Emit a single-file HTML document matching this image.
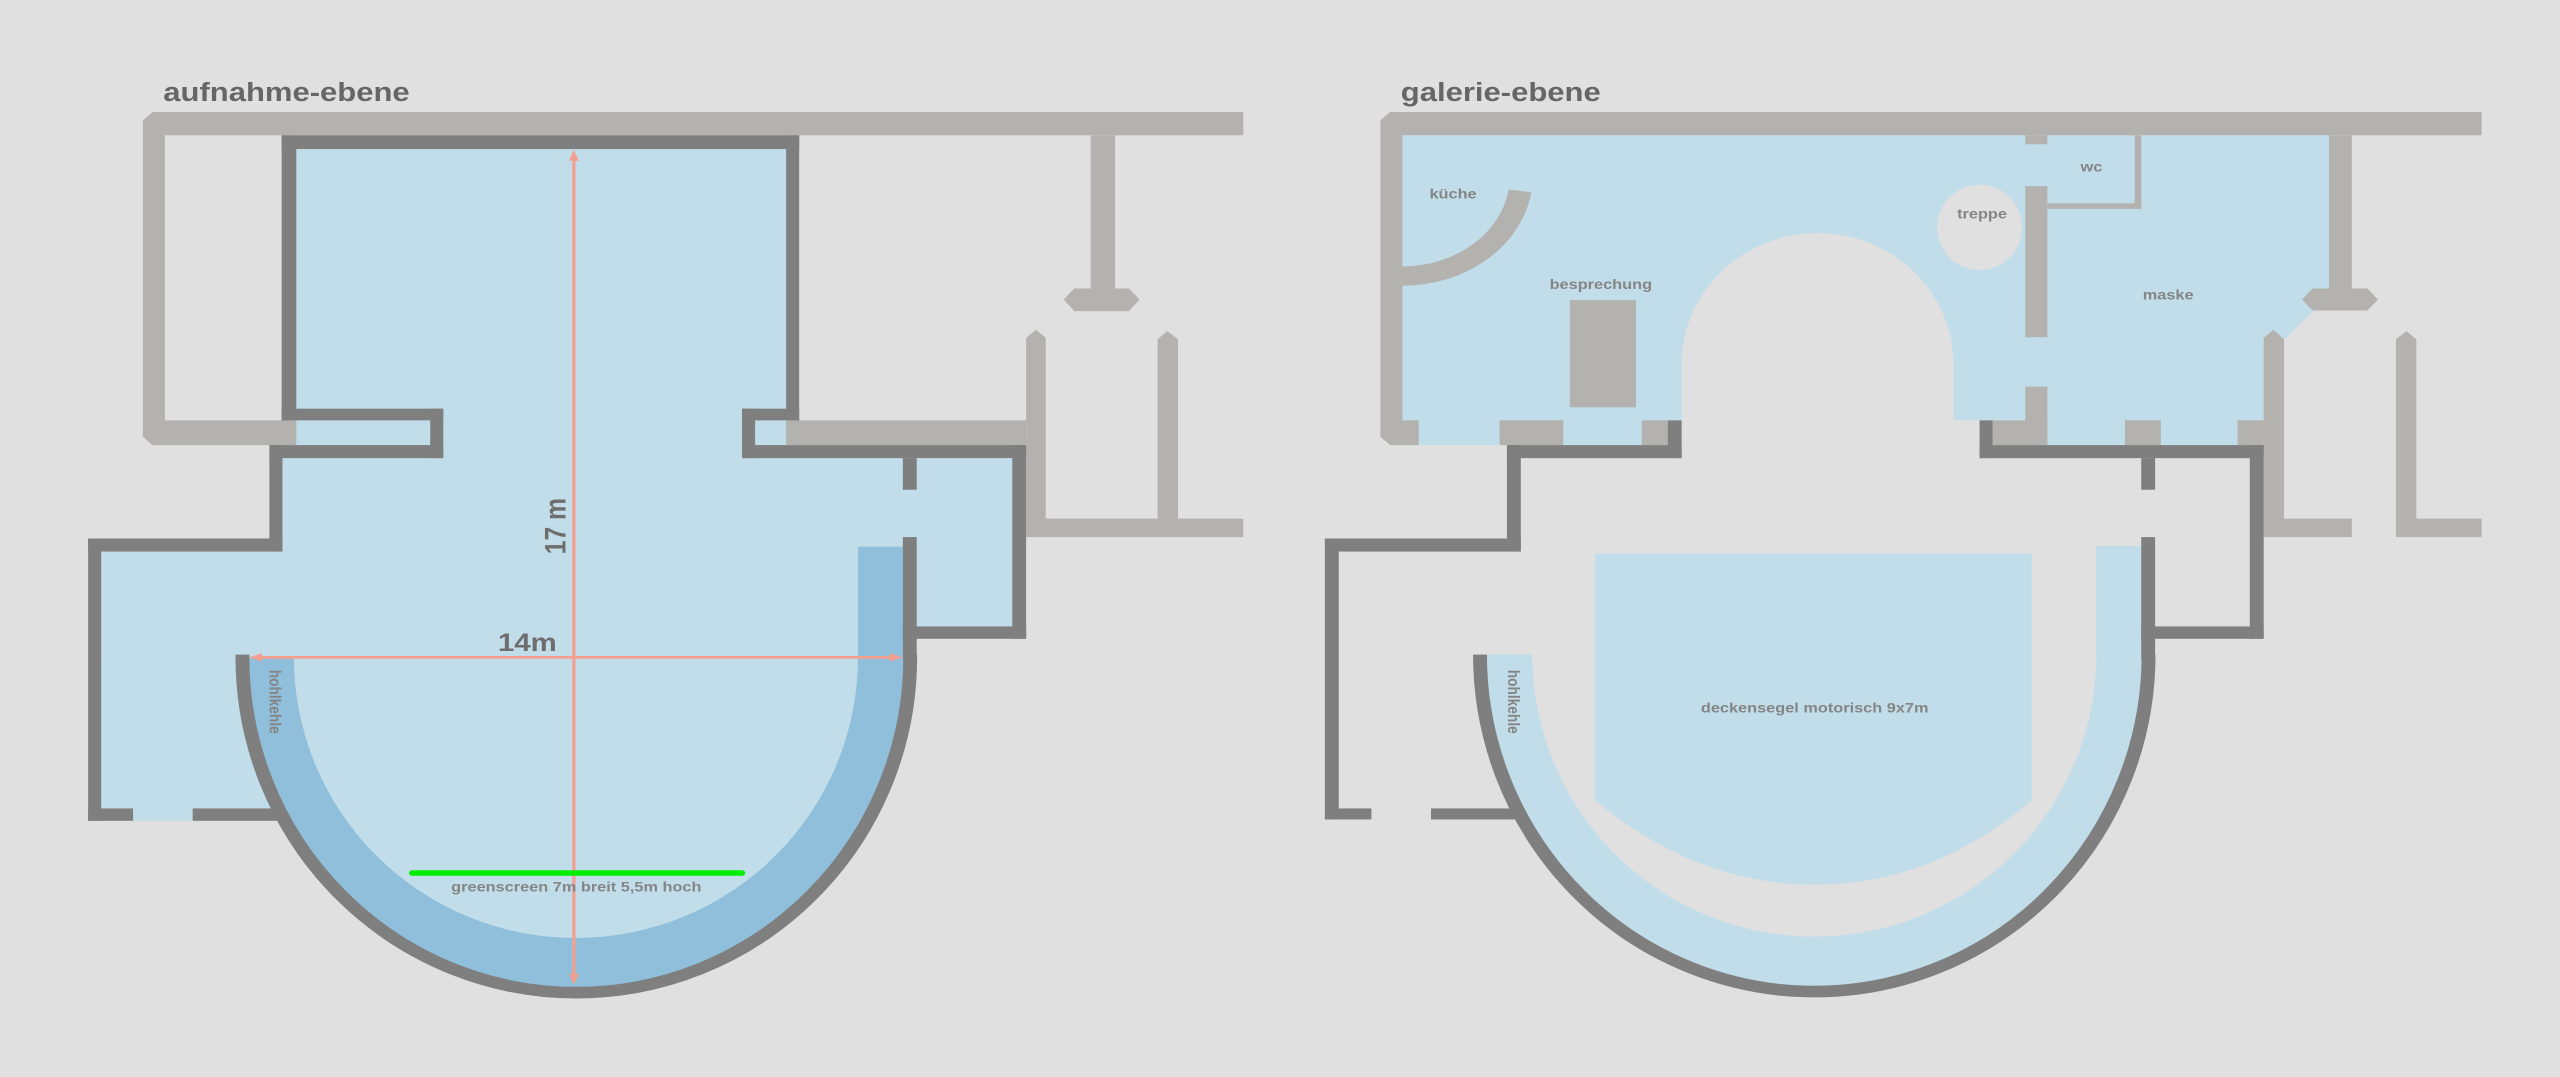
<!DOCTYPE html>
<html><head><meta charset="utf-8"><style>
html,body{margin:0;padding:0;background:#e0e0e0;}
body{width:2560px;height:1077px;position:relative;overflow:hidden;}
svg{position:absolute;top:0;}
text{font-family:"Liberation Sans",sans-serif;font-weight:bold;}
</style></head><body>
<svg style="left:0" width="1280" height="1077" viewBox="0 0 1568 1568" preserveAspectRatio="none">
<rect width="1568" height="1568" fill="#e0e0e0"/>
<text x="200" y="147" font-size="38" fill="#666">aufnahme-ebene</text>
<g fill="#b3b2ae">
<path d="M187 163 H1523 V197 H202 V612 H527 V648 H187 L175 636 V175 Z"/>
<rect x="925" y="612" width="332" height="36"/>
<rect x="1336" y="197" width="30" height="223"/>
<path d="M1316 420 H1383 L1396 436 L1383 453 H1316 L1303 436 Z"/>
<path d="M1257 492 L1269 480 L1281 492 V755 H1418 V494 L1430 482 L1443 494 V755 H1523 V782 H1257 Z"/>
</g>
<g fill="#c1dde9">
<rect x="363" y="217" width="600" height="450"/>
<rect x="346" y="648" width="760" height="310"/>
<rect x="1106" y="667" width="134" height="245"/>
<rect x="124" y="803" width="222" height="374"/>
<rect x="124" y="960" width="216" height="235"/>
<path d="M297 957 A408 487 0 0 0 1115 957 Z"/>
</g>
<path d="M297 957 A408 487 0 0 0 1115 957 V796 H1051 V957 A345 408 0 0 1 360 957 Z" fill="#8fbfda"/>
<g fill="#7f7f7f">
<rect x="345" y="197" width="634" height="20"/>
<rect x="345" y="197" width="18" height="415"/>
<rect x="963" y="197" width="16" height="415"/>
<rect x="345" y="595" width="198" height="17"/>
<rect x="527" y="595" width="16" height="72"/>
<rect x="330" y="648" width="213" height="19"/>
<rect x="330" y="648" width="16" height="155"/>
<rect x="108" y="784" width="238" height="19"/>
<rect x="108" y="784" width="16" height="411"/>
<rect x="108" y="1177" width="55" height="18"/>
<rect x="236" y="1177" width="104" height="18"/>
<rect x="909" y="595" width="70" height="17"/>
<rect x="909" y="595" width="16" height="72"/>
<rect x="909" y="648" width="348" height="19"/>
<rect x="1240" y="648" width="17" height="282"/>
<rect x="1106" y="912" width="151" height="18"/>
<rect x="1106" y="667" width="17" height="46"/>
<rect x="1106" y="782" width="17" height="178"/>
</g>
<path d="M297 953 V957 A408 487 0 0 0 1115 957 V953" fill="none" stroke="#7f7f7f" stroke-width="17"/>
<g stroke="#f4a090" stroke-width="4" fill="#f4a090">
<line x1="703" y1="228" x2="703" y2="1424"/>
<line x1="315" y1="957" x2="1096" y2="957"/>
</g>
<g fill="#f4a090">
<path d="M703 218 L697 234 H709 Z"/><path d="M703 1434 L697 1418 H709 Z"/>
<path d="M305 957 L321 951 V963 Z"/><path d="M1106 957 L1090 951 V963 Z"/>
</g>
<text x="0" y="0" font-size="36" fill="#6e6e6e" transform="translate(693,807) rotate(-90)">17 m</text>
<text x="610" y="948" font-size="36" fill="#6e6e6e">14m</text>
<line x1="505" y1="1271" x2="909" y2="1271" stroke="#00ee00" stroke-width="8" stroke-linecap="round"/>
<text x="706" y="1298" font-size="20" fill="#858585" text-anchor="middle">greenscreen 7m breit 5,5m hoch</text>
<text x="0" y="0" font-size="20" fill="#858585" transform="translate(330,975) rotate(90)">hohlkehle</text>
</svg>

<svg style="left:1280px" width="1280" height="1077" viewBox="0 0 1568 1568" preserveAspectRatio="none">
<rect width="1568" height="1568" fill="#e0e0e0"/>
<text x="148" y="147" font-size="38" fill="#666">galerie-ebene</text>
<g fill="#c1dde9">
<rect x="150" y="197" width="1135" height="255"/>
<rect x="150" y="450" width="1055" height="162"/>
<path d="M1205 450 L1268 450 L1228 497 L1205 497 Z"/>
<rect x="150" y="600" width="342" height="48"/>
<rect x="940" y="600" width="265" height="48"/>
</g>
<path d="M492 612 V530 A166 190 0 0 1 825 530 V612 Z" fill="#e0e0e0"/>
<ellipse cx="857" cy="331" rx="52" ry="62" fill="#e0e0e0"/>
<g fill="#b3b2ae">
<path d="M135 163 H1472 V197 H150 V612 H170 V648 H135 L123 636 V175 Z"/>
<rect x="269" y="612" width="78" height="36"/>
<rect x="443" y="612" width="32" height="36"/>
<rect x="913" y="197" width="27" height="13"/>
<rect x="913" y="271" width="27" height="220"/>
<rect x="913" y="563" width="27" height="85"/>
<rect x="873" y="612" width="67" height="36"/>
<rect x="1035" y="612" width="44" height="36"/>
<rect x="1173" y="612" width="32" height="36"/>
<rect x="1047" y="197" width="8" height="107"/>
<rect x="940" y="296" width="115" height="8"/>
<rect x="1285" y="197" width="28" height="223"/>
<path d="M1265 420 H1332 L1345 436 L1332 452 H1265 L1252 436 Z"/>
<path d="M1205 492 L1217 480 L1230 494 V755 H1313 V782 H1205 Z"/>
<path d="M1367 494 L1380 482 L1392 494 V755 H1472 V782 H1367 Z"/>
<rect x="355" y="437" width="81" height="156"/>
</g>
<path d="M150 402 A146 146 0 0 0 294 278" fill="none" stroke="#b3b2ae" stroke-width="28"/>
<path d="M245 953 A409 490 0 0 0 1064 953 V795 H1000 V953 A345 410 0 0 1 309 953 Z" fill="#c1dde9"/>
<path d="M386 806 H921 V1165 Q800 1288 655 1288 Q510 1288 386 1165 Z" fill="#c1dde9"/>
<g fill="#7f7f7f">
<rect x="475" y="612" width="17" height="55"/>
<rect x="278" y="648" width="214" height="19"/>
<rect x="278" y="648" width="17" height="155"/>
<rect x="55" y="784" width="240" height="19"/>
<rect x="55" y="784" width="17" height="409"/>
<rect x="55" y="1177" width="57" height="16"/>
<rect x="185" y="1177" width="105" height="16"/>
<rect x="857" y="612" width="16" height="55"/>
<rect x="857" y="648" width="348" height="19"/>
<rect x="1188" y="648" width="17" height="282"/>
<rect x="1055" y="912" width="150" height="18"/>
<rect x="1055" y="667" width="17" height="46"/>
<rect x="1055" y="782" width="17" height="178"/>
</g>
<path d="M245 953 A409 490 0 0 0 1064 953" fill="none" stroke="#7f7f7f" stroke-width="17"/>
<g font-size="20" fill="#858585" text-anchor="middle">
<text x="212" y="289">küche</text>
<text x="393" y="421">besprechung</text>
<text x="860" y="318">treppe</text>
<text x="994" y="250">wc</text>
<text x="1088" y="436">maske</text>
<text x="655" y="1037">deckensegel motorisch 9x7m</text>
</g>
<text x="0" y="0" font-size="20" fill="#858585" transform="translate(279,975) rotate(90)">hohlkehle</text>
</svg>
</body></html>
